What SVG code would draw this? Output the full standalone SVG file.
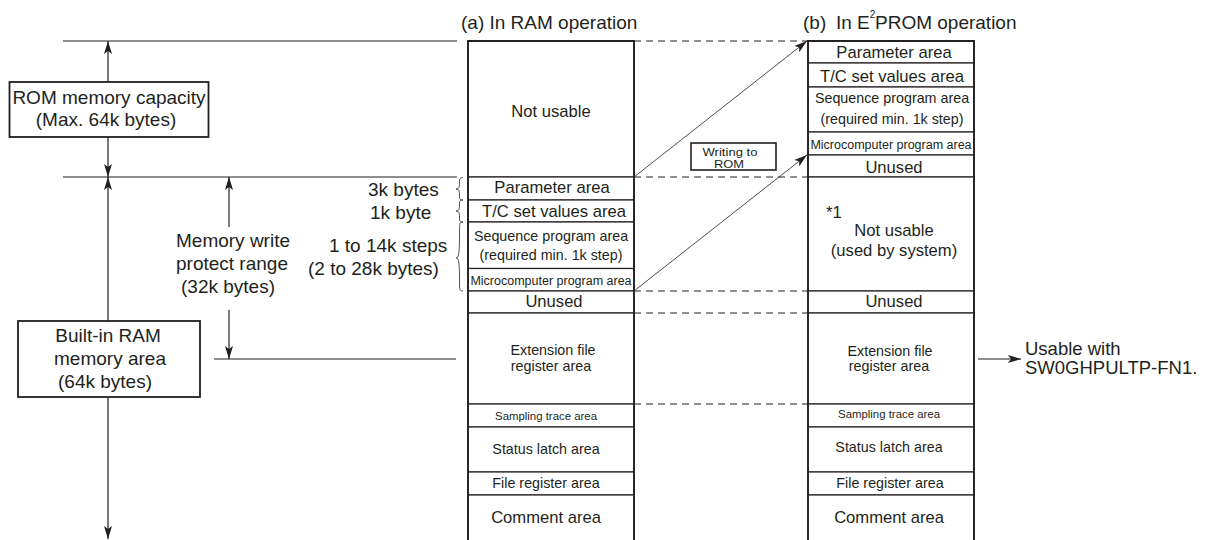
<svg xmlns="http://www.w3.org/2000/svg" width="1216" height="540" viewBox="0 0 1216 540">
<style>
text{font-family:"Liberation Sans",Arial,Helvetica,sans-serif;fill:#231f20}
.c{text-anchor:middle}
.cell{fill:#fff;stroke:#231f20;stroke-width:1.2}
.colb{fill:none;stroke:#231f20;stroke-width:1.8}
.dash{fill:none;stroke:#231f20;stroke-width:1;stroke-dasharray:7 5}
.ln{fill:none;stroke:#231f20;stroke-width:1.2}
.thin{fill:none;stroke:#231f20;stroke-width:0.8}
.box{fill:#fff;stroke:#231f20;stroke-width:1.8}
.brace{fill:none;stroke:#231f20;stroke-width:0.8}
.f19{font-size:19px}
.f185{font-size:18.5px}
.f165{font-size:16.6px}
.f143{font-size:14.3px}
.f125{font-size:12.5px}
.f114{font-size:11.4px}
.f10{font-size:10.5px}
</style>
<defs>
<marker id="ah" viewBox="-14 -5 15 10" refX="0" refY="0" markerWidth="15" markerHeight="10" markerUnits="userSpaceOnUse" orient="auto-start-reverse">
<path d="M0,0 L-13,-4 L-10,0 L-13,4 Z" fill="#231f20"/>
</marker>
</defs>

<!-- headers -->
<g id="header-a"><text class="f19" x="461" y="29">(a) In RAM operation</text></g>
<g id="header-b"><text class="f19" x="803" y="29">(b)</text><text class="f19" x="836" y="29">In E<tspan font-size="10" dy="-11">2</tspan><tspan x="875" dy="11">PROM operation</tspan></text></g>

<!-- guide lines -->
<g id="guides">
<line class="ln" x1="63" y1="41" x2="457" y2="41"/>
<line class="ln" x1="63" y1="177" x2="457" y2="177"/>
<line class="ln" x1="214" y1="359" x2="456" y2="359"/>
<line class="dash" x1="634" y1="41" x2="808" y2="41"/>
<line class="dash" x1="634" y1="177" x2="808" y2="177"/>
<line class="dash" x1="634" y1="291" x2="808" y2="291"/>
<line class="dash" x1="634" y1="313" x2="808" y2="313"/>
<line class="dash" x1="634" y1="404" x2="808" y2="404"/>
</g>

<!-- RAM column -->
<g id="ram-not-usable"><rect class="cell" x="468" y="41" width="166" height="136"/><text class="c f165" x="551" y="117">Not usable</text></g>
<g id="ram-parameter"><rect class="cell" x="468" y="177" width="166" height="23"/><text class="c f165" x="552" y="193">Parameter area</text></g>
<g id="ram-tc"><rect class="cell" x="468" y="200" width="166" height="22"/><text class="c f165" x="554" y="217">T/C set values area</text></g>
<g id="ram-sequence"><rect class="cell" x="468" y="222" width="166" height="46.5"/><text class="c f143" x="551" y="241">Sequence program area</text><text class="c f143" x="551" y="260">(required min. 1k step)</text></g>
<g id="ram-micro"><rect class="cell" x="468" y="268.5" width="166" height="22.5"/><text class="c f125" x="551" y="285">Microcomputer program area</text></g>
<g id="ram-unused"><rect class="cell" x="468" y="291" width="166" height="22"/><text class="c f165" x="554" y="307">Unused</text></g>
<g id="ram-extension"><rect class="cell" x="468" y="313" width="166" height="91"/><text class="c f143" x="553" y="355">Extension file</text><text class="c f143" x="551" y="371">register area</text></g>
<g id="ram-sampling"><rect class="cell" x="468" y="404" width="166" height="23"/><text class="c f114" x="546" y="420">Sampling trace area</text></g>
<g id="ram-status"><rect class="cell" x="468" y="427" width="166" height="45"/><text class="c f143" x="546" y="454">Status latch area</text></g>
<g id="ram-file-register"><rect class="cell" x="468" y="472" width="166" height="23"/><text class="c f143" x="546" y="488">File register area</text></g>
<g id="ram-comment"><rect class="cell" x="468" y="495" width="166" height="55"/><text class="c f165" x="546" y="523">Comment area</text></g>
<path class="colb" d="M468,550 V41 H634 V550"/>

<!-- E2PROM column -->
<g id="rom-parameter"><rect class="cell" x="808" y="41" width="166" height="22"/><text class="c f165" x="894" y="58">Parameter area</text></g>
<g id="rom-tc"><rect class="cell" x="808" y="63" width="166" height="24"/><text class="c f165" x="892" y="82">T/C set values area</text></g>
<g id="rom-sequence"><rect class="cell" x="808" y="87" width="166" height="45"/><text class="c f143" x="892" y="103">Sequence program area</text><text class="c f143" x="892" y="124">(required min. 1k step)</text></g>
<g id="rom-micro"><rect class="cell" x="808" y="132" width="166" height="23"/><text class="c f125" x="891" y="149">Microcomputer program area</text></g>
<g id="rom-unused-1"><rect class="cell" x="808" y="155" width="166" height="22"/><text class="c f165" x="894" y="173">Unused</text></g>
<g id="rom-not-usable"><rect class="cell" x="808" y="177" width="166" height="114"/><text class="f165" x="826" y="218">*1</text><text class="c f165" x="894" y="236">Not usable</text><text class="c f165" x="894" y="256">(used by system)</text></g>
<g id="rom-unused-2"><rect class="cell" x="808" y="291" width="166" height="22"/><text class="c f165" x="894" y="307">Unused</text></g>
<g id="rom-extension"><rect class="cell" x="808" y="313" width="166" height="91"/><text class="c f143" x="890" y="356">Extension file</text><text class="c f143" x="889" y="371">register area</text></g>
<g id="rom-sampling"><rect class="cell" x="808" y="404" width="166" height="23"/><text class="c f114" x="889" y="418">Sampling trace area</text></g>
<g id="rom-status"><rect class="cell" x="808" y="427" width="166" height="45"/><text class="c f143" x="889" y="452">Status latch area</text></g>
<g id="rom-file-register"><rect class="cell" x="808" y="472" width="166" height="23"/><text class="c f143" x="890" y="488">File register area</text></g>
<g id="rom-comment"><rect class="cell" x="808" y="495" width="166" height="55"/><text class="c f165" x="889" y="523">Comment area</text></g>
<path class="colb" d="M808,550 V41 H974 V550"/>

<!-- connectors -->
<g id="connectors">
<line class="ln" x1="108" y1="41" x2="108" y2="82" marker-start="url(#ah)"/>
<line class="ln" x1="108" y1="137" x2="108" y2="177" marker-end="url(#ah)"/>
<line class="ln" x1="108" y1="177" x2="108" y2="321" marker-start="url(#ah)"/>
<line class="ln" x1="108" y1="397" x2="108" y2="539" marker-end="url(#ah)"/>
<line class="ln" x1="229" y1="177" x2="229" y2="227" marker-start="url(#ah)"/>
<line class="ln" x1="229" y1="310" x2="229" y2="359" marker-end="url(#ah)"/>
<line class="thin" x1="634" y1="177" x2="807" y2="41" marker-end="url(#ah)"/>
<line class="thin" x1="634" y1="291" x2="807" y2="155" marker-end="url(#ah)"/>
<line class="ln" x1="978" y1="359" x2="1021" y2="359" marker-end="url(#ah)"/>
<path class="brace" d="M463,177.5 C459,177.5 459.5,180 459.5,183 C459.5,187 459,189 456,189 C459,189 459.5,191 459.5,195 C459.5,198 459,200 463,200"/>
<path class="brace" d="M463,200 C459,200 459.5,202 459.5,205 C459.5,209 459,211 456,211 C459,211 459.5,213 459.5,217 C459.5,220 459,222 463,222"/>
<path class="brace" d="M463,222 C459,222 459.5,225 459.5,232 C459.5,252 459,258 456,258 C459,258 459.5,264 459.5,280 C459.5,288 459,291 463,291"/>
</g>

<!-- labels -->
<g id="rom-capacity"><rect class="box" x="9.5" y="82" width="199" height="55"/><text class="c f19" x="109" y="104">ROM memory capacity</text><text class="c f19" x="106" y="126">(Max. 64k bytes)</text></g>
<g id="builtin-ram"><rect class="box" x="18" y="321" width="182" height="76"/><text class="c f19" x="108" y="342">Built-in RAM</text><text class="c f19" x="110" y="365">memory area</text><text class="c f19" x="105" y="388">(64k bytes)</text></g>
<g id="write-protect"><text class="f19" x="176" y="247">Memory write</text><text class="f19" x="176" y="270">protect range</text><text class="f19" x="181" y="293">(32k bytes)</text></g>
<g id="sizes"><text class="f19" x="368" y="196">3k bytes</text><text class="f19" x="370" y="219">1k byte</text><text class="f19" x="329" y="252">1 to 14k steps</text><text class="f19" x="308" y="275">(2 to 28k bytes)</text></g>
<g id="writing-to-rom"><rect fill="#fff" stroke="#231f20" stroke-width="1.6" x="691" y="143" width="85" height="27"/><text class="c f10" x="730" y="155.5" textLength="55" lengthAdjust="spacingAndGlyphs">Writing to</text><text class="c f10" x="729" y="167.5" textLength="30" lengthAdjust="spacingAndGlyphs">ROM</text></g>
<g id="usable-with"><text class="f185" x="1025" y="355">Usable with</text><text class="f185" x="1025" y="374">SW0GHPULTP-FN1.</text></g>
</svg>
